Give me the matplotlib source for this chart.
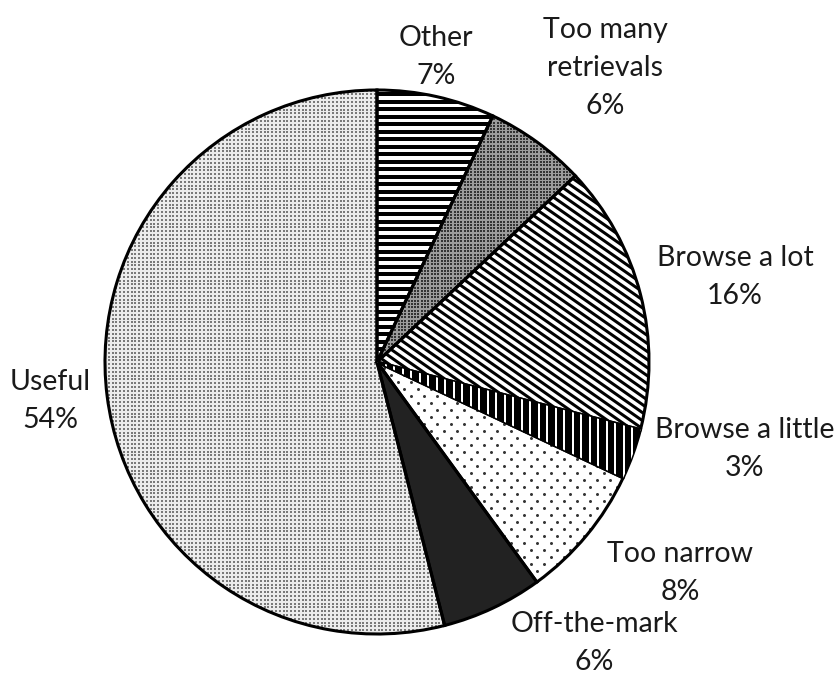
import numpy as np
import matplotlib
import matplotlib.pyplot as plt
from matplotlib.collections import LineCollection
matplotlib.use("Agg")

labels = ['Other', 'Too many\nretrievals', 'Browse a lot', 'Browse a little',
          'Too narrow', 'Off-the-mark', 'Useful']
shares = [7, 6, 16, 3, 8, 6, 54]

# x centre and first baseline of each label, in pixels from the top-left
label_pos = [(436, 46), (605, 38), (735, 266), (745, 438),
             (680, 562), (594, 632), (50, 390)]
LINE_PITCH = 38

W, H = 835, 677
CX, CY, R = 377, H - 362, 272
PT = 0.72  # points per pixel at 100 dpi

plt.rcParams['font.family'] = ['Lato', 'DejaVu Sans']

fig = plt.figure(figsize=(W / 100, H / 100), dpi=100)
ax = fig.add_axes([0, 0, 1, 1])

faces = ['white', '#9c9c9c', 'white', 'black', 'white', '#222222', '#ececec']
wedges, _ = ax.pie(shares, startangle=90, counterclock=False, center=(CX, CY),
                   radius=R, colors=faces, wedgeprops=dict(linewidth=0))


def line_fill(wedge, angle, period, width_px, color):
    # parallel lines at `angle` degrees, clipped to the wedge
    a = np.deg2rad(angle)
    d = np.array([np.cos(a), np.sin(a)])
    n = np.array([-d[1], d[0]])
    segs = []
    for off in np.arange(-R - period, R + period, period):
        c = np.array([CX, CY]) + n * off
        segs.append([c - d * R * 1.2, c + d * R * 1.2])
    lc = LineCollection(segs, colors=color, linewidths=width_px * PT,
                        capstyle='butt')
    ax.add_collection(lc)
    lc.set_clip_path(wedge)


def dot_fill(wedge, dx, dy, size_px, color, stagger=False, marker='s'):
    xs, ys = [], []
    for i, y in enumerate(np.arange(CY - R, CY + R + dy, dy)):
        shift = dx / 2 if (stagger and i % 2) else 0
        for x in np.arange(CX - R + shift, CX + R + dx, dx):
            xs.append(x)
            ys.append(y)
    sc = ax.scatter(xs, ys, s=(size_px * PT) ** 2, c=color, marker=marker,
                    linewidths=0)
    sc.set_clip_path(wedge)


w_other, w_many, w_lot, w_little, w_narrow, w_off, w_useful = wedges
line_fill(w_other, 0, 7.5, 4.0, 'black')
dot_fill(w_many, 3.3, 3.3, 1.6, '#333333')
line_fill(w_lot, -35, 6.6, 3.0, 'black')
line_fill(w_little, 90, 8.5, 2.0, 'white')
dot_fill(w_narrow, 13.3, 7.0, 3.0, '#333333', stagger=True, marker='o')
dot_fill(w_useful, 3.8, 3.8, 2.0, '#7a7a7a')

# outlines on top of the fills
ax.pie(shares, startangle=90, counterclock=False, center=(CX, CY), radius=R,
       wedgeprops=dict(fill=False, edgecolor='black', linewidth=2.2))

for lab, share, (x, y) in zip(labels, shares, label_pos):
    lines = f'{lab}\n{share}%'.split('\n')
    for i, line in enumerate(lines):
        ax.text(x, H - (y + i * LINE_PITCH), line, ha='center', va='baseline',
                fontsize=20.5, color='#1a1a1a')

ax.set_xlim(0, W)
ax.set_ylim(0, H)
ax.set_aspect('equal')
ax.axis('off')

fig.savefig('out.png', dpi=100)
